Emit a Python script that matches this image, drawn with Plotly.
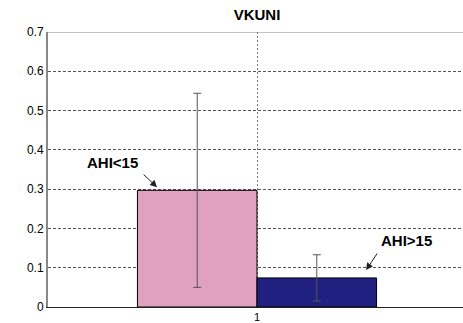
import plotly.graph_objects as go

# Group data
groups = ["AHI<15", "AHI>15"]
means = [0.297, 0.074]
errors = [0.247, 0.059]
colors = ["#E0A0C0", "#202080"]
category = 1
ytick_vals = [0, 0.1, 0.2, 0.3, 0.4, 0.5, 0.6, 0.7]
ytick_text = ["0", "0.1", "0.2", "0.3", "0.4", "0.5", "0.6", "0.7"]

bar_w = 0.286
FONT = "Liberation Sans, Arial, sans-serif"

fig = go.Figure()
for i, (name, m, e, c) in enumerate(zip(groups, means, errors, colors)):
    xpos = category + (i - 0.5) * bar_w
    fig.add_trace(go.Bar(
        x=[xpos], y=[m], width=bar_w, name=name,
        marker=dict(color=c, line=dict(color="#000000", width=1)),
        error_y=dict(type="data", array=[e], visible=True,
                     color="#555555", thickness=1, width=4),
        showlegend=False,
    ))

# Group labels with pointing arrows
label_pos = [(0.655, 0.368), (1.358, 0.170)]
arrow_tip = [(0.761, 0.305), (1.261, 0.094)]
arrow_off = [(-15, -14), (12, -18)]
for name, (tx, ty), (hx, hy), (ox, oy) in zip(groups, label_pos, arrow_tip, arrow_off):
    fig.add_annotation(x=tx, y=ty, text=f"<b>{name}</b>", showarrow=False,
                       font=dict(family=FONT, size=15, color="#000000"))
    fig.add_annotation(x=hx, y=hy, text="", showarrow=True, ax=ox, ay=oy,
                       arrowhead=2, arrowsize=1.4, arrowwidth=1,
                       arrowcolor="#222222")

# Top frame line
fig.add_shape(type="line", xref="paper", yref="y", x0=0, x1=1, y0=0.7, y1=0.7,
              line=dict(color="#888888", width=1))

fig.update_layout(
    width=463, height=323,
    margin=dict(l=48, r=0, t=32, b=16, autoexpand=False),
    paper_bgcolor="white", plot_bgcolor="white",
    title=dict(text="<b>VKUNI</b>", x=257 / 463, xanchor="center", y=1 - 14.5 / 323,
               yanchor="middle",
               font=dict(family=FONT, size=15, color="#000000")),
    font=dict(family=FONT, size=12, color="#000000"),
    barmode="overlay",
)
fig.update_xaxes(
    range=[0.5, 0.5 + 415 / 418], tickvals=[category], ticktext=[str(category)],
    tickfont=dict(size=11),
    showgrid=True, gridcolor="#777777", griddash="2px,2px", gridwidth=1,
    showline=True, linecolor="#222222", linewidth=1, ticks="", zeroline=False,
    automargin=False, ticklabelstandoff=0, fixedrange=True,
)
fig.update_yaxes(
    range=[0, 0.7], tickvals=ytick_vals, ticktext=ytick_text,
    showgrid=True, gridcolor="#555555", griddash="3px,2px", gridwidth=1,
    showline=True, linecolor="#888888", linewidth=2, ticks="", zeroline=False,
    automargin=False, fixedrange=True,
)

fig.write_html("out.html")
